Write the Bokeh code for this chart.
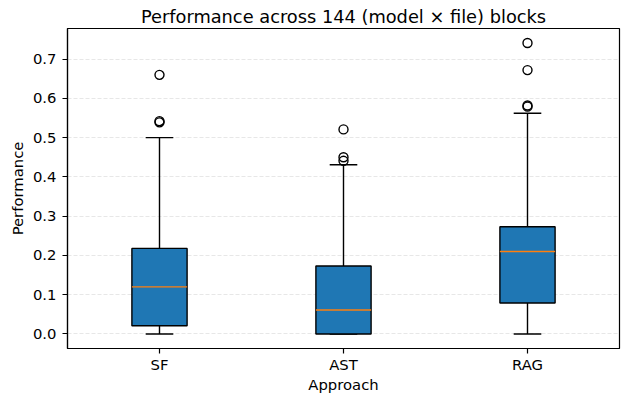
from bokeh.plotting import figure
from bokeh.models import FactorRange, Range1d, FixedTicker, PrintfTickFormatter, ColumnDataSource, Title
from bokeh.transform import dodge
from bokeh.embed import file_html
from bokeh.resources import INLINE

categories = ["SF", "AST", "RAG"]
q1 = [0.021, 0.0, 0.079]
median = [0.12, 0.061, 0.21]
q3 = [0.218, 0.173, 0.273]
whisker_low = [0.0, 0.0, 0.0]
whisker_high = [0.5, 0.431, 0.562]
outlier_cat = ["SF", "SF", "SF", "AST", "AST", "AST", "RAG", "RAG", "RAG", "RAG"]
outlier_val = [0.539, 0.542, 0.66, 0.441, 0.45, 0.521, 0.579, 0.582, 0.672, 0.741]
y_ticks = [0.0, 0.1, 0.2, 0.3, 0.4, 0.5, 0.6, 0.7]

FONT = "DejaVu Sans"
LW = 1.4

src = ColumnDataSource(dict(cat=categories, q1=q1, med=median, q3=q3,
                            lo=whisker_low, hi=whisker_high))
out_src = ColumnDataSource(dict(cat=outlier_cat, val=outlier_val))

p = figure(width=621, height=395, output_backend="svg", toolbar_location=None,
           x_range=FactorRange(factors=categories, range_padding=0),
           y_range=Range1d(-0.037, 0.778),
           min_border_left=67, min_border_right=2, min_border_top=28, min_border_bottom=0)

p.title = Title(text="Performance across 144 (model \u00d7 file) blocks", align="center",
                text_font=FONT, text_font_size="17.8px", text_font_style="normal",
                text_color="#000000", standoff=4)

p.segment(x0="cat", y0="q3", x1="cat", y1="hi", source=src, line_color="black", line_width=LW)
p.segment(x0="cat", y0="q1", x1="cat", y1="lo", source=src, line_color="black", line_width=LW)
p.segment(x0=dodge("cat", -0.075, range=p.x_range), y0="hi",
          x1=dodge("cat", 0.075, range=p.x_range), y1="hi", source=src,
          line_color="black", line_width=LW)
p.segment(x0=dodge("cat", -0.075, range=p.x_range), y0="lo",
          x1=dodge("cat", 0.075, range=p.x_range), y1="lo", source=src,
          line_color="black", line_width=LW)
p.vbar(x="cat", width=0.3, bottom="q1", top="q3", source=src,
       fill_color="#1f77b4", line_color="black", line_width=LW)
p.segment(x0=dodge("cat", -0.15, range=p.x_range), y0="med",
          x1=dodge("cat", 0.15, range=p.x_range), y1="med", source=src,
          line_color="#ff7f0e", line_width=LW)
p.scatter(x="cat", y="val", source=out_src, marker="circle", size=9,
          fill_color=None, line_color="black", line_width=LW)

for ax in (p.xaxis[0], p.yaxis[0]):
    ax.major_label_text_font = FONT
    ax.major_label_text_font_size = "14.8px"
    ax.major_label_text_color = "#000000"
    ax.axis_label_text_font = FONT
    ax.axis_label_text_font_size = "14.8px"
    ax.axis_label_text_font_style = "normal"
    ax.axis_label_text_color = "#000000"
    ax.major_tick_out = 5
    ax.major_tick_in = 0
    ax.minor_tick_out = 0
    ax.minor_tick_in = 0
    ax.axis_line_color = "black"
    ax.axis_line_width = 1.2
    ax.major_tick_line_color = "black"
    ax.major_tick_line_width = 1.2

p.xaxis.axis_label = "Approach"
p.yaxis.axis_label = "Performance"
p.xaxis.major_label_standoff = 2
p.xaxis.axis_label_standoff = 0
p.yaxis.major_label_standoff = 6
p.yaxis.axis_label_standoff = 4
p.yaxis.ticker = FixedTicker(ticks=y_ticks)
p.yaxis.formatter = PrintfTickFormatter(format="%.1f")

p.xgrid.grid_line_color = None
p.ygrid.ticker = FixedTicker(ticks=y_ticks)
p.ygrid.grid_line_color = "#b0b0b0"
p.ygrid.grid_line_alpha = 0.3
p.ygrid.grid_line_dash = "4 2"
p.ygrid.grid_line_width = 1

p.outline_line_color = "black"
p.outline_line_width = 1.2
p.outline_line_alpha = 1
p.background_fill_color = "white"
p.border_fill_color = "white"

open("out.html", "w").write(file_html(p, INLINE))
